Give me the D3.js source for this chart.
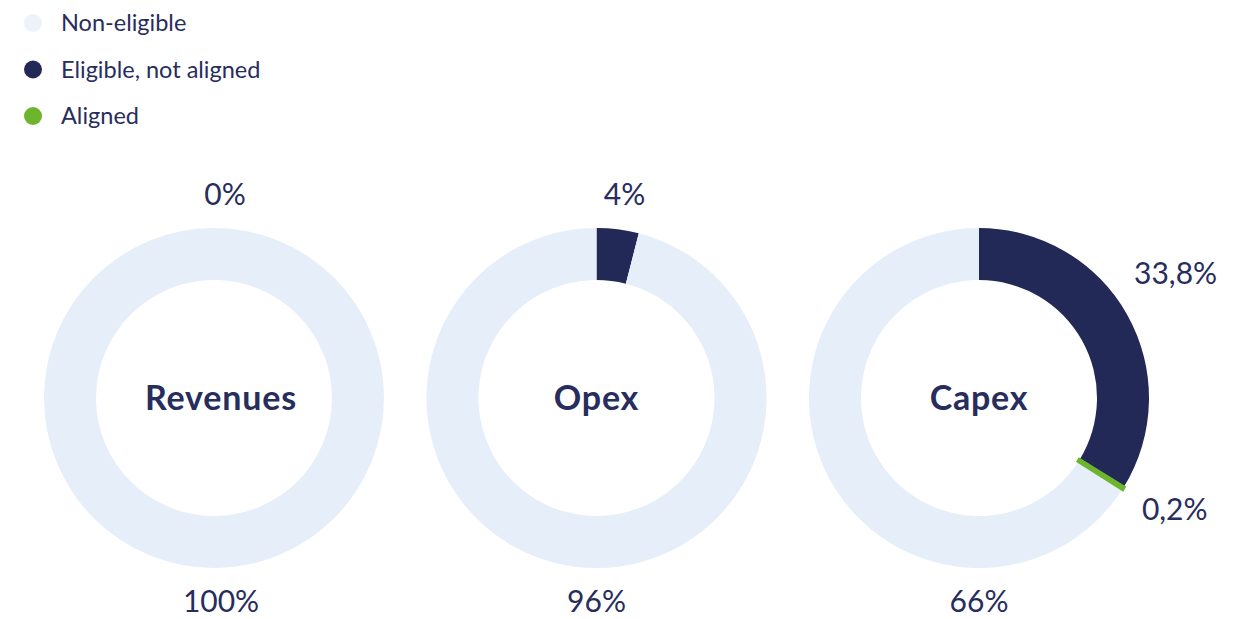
<!DOCTYPE html>
<html><head><meta charset="utf-8">
<script src="https://cdn.jsdelivr.net/npm/d3@7"></script>
<style>
html,body{margin:0;padding:0;background:#fff;}
svg{display:block;font-family:Lato,"Open Sans",sans-serif;}
</style></head>
<body>
<svg id="c" width="1243" height="619"></svg>
<script>
const categories = ["Revenues", "Opex", "Capex"];
const seriesNames = ["Eligible, not aligned", "Aligned", "Non-eligible"];
const eligibleNotAligned = [0, 4, 33.8];
const aligned = [0, 0, 0.2];
const nonEligible = [100, 96, 66];
const eligibleLabels = ["0%", "4%", "33,8%"];
const alignedLabels = ["", "", "0,2%"];
const nonEligibleLabels = ["100%", "96%", "66%"];
const legendNames = ["Non-eligible", "Eligible, not aligned", "Aligned"];

const colors = {"Non-eligible": "#e5eef9", "Eligible, not aligned": "#232957", "Aligned": "#6cb52d"};
const legendColors = {"Non-eligible": "#edf3fb", "Eligible, not aligned": "#232957", "Aligned": "#6cb52d"};
const textColor = "#272d5c";

const svg = d3.select("#c");

// Legend
const lg = svg.append("g");
legendNames.forEach((n, i) => {
  const y = 23 + i * 46.5;
  lg.append("circle").attr("cx", 33).attr("cy", y).attr("r", 9).attr("fill", legendColors[n]);
  lg.append("text").attr("x", 61).attr("y", y).attr("dy", "0.35em")
    .attr("font-size", 23.5).attr("fill", textColor).text(n);
});

const x = d3.scalePoint().domain(categories).range([214, 979]);
const cy = 398, outerR = 170, innerR = 118, labelR = 191;
const pie = d3.pie().sort(null).value(d => d.value);
const arc = d3.arc().innerRadius(innerR).outerRadius(outerR);

function placeLabel(g, angle, text, fs, dx) {
  const t = g.append("text").attr("font-size", fs).attr("fill", textColor)
    .attr("text-anchor", "middle").attr("dy", "0.35em").text(text);
  const bb = t.node().getBBox();
  const hw = bb.width / 2, hh = 12;
  const s = Math.sin(angle), c = Math.cos(angle);
  const ext = Math.abs(s) * hw + Math.abs(c) * hh;
  const r = labelR + ext;
  t.attr("x", r * s + dx).attr("y", -r * c);
}

categories.forEach((cat, i) => {
  const g = svg.append("g").attr("transform", `translate(${x(cat)},${cy})`);
  const data = [
    {name: "Eligible, not aligned", value: eligibleNotAligned[i]},
    {name: "Aligned", value: aligned[i]},
    {name: "Non-eligible", value: nonEligible[i]}
  ];
  const arcs = pie(data);
  // text in the single-slice (100%) chart sits slightly right of the ring centre
  const tdx = (eligibleNotAligned[i] === 0 && aligned[i] === 0) ? 7 : 0;
  g.selectAll("path").data(arcs.filter(a => a.data.value > 0)).join("path")
    .attr("d", arc)
    .attr("fill", d => colors[d.data.name])
    .attr("stroke", d => d.data.name === "Aligned" ? colors["Aligned"] : "none")
    .attr("stroke-width", d => d.data.name === "Aligned" ? 4 : 0)
    .attr("stroke-linejoin", "miter");
  g.selectAll("path").filter(d => d.data.name === "Aligned").raise();

  g.append("text").attr("x", tdx).attr("text-anchor", "middle").attr("dy", "0.35em")
    .attr("font-size", 34).attr("font-weight", "bold").attr("letter-spacing", 0.8)
    .attr("fill", textColor).text(cat);

  const e = arcs[0];
  placeLabel(g, (e.startAngle + e.endAngle) / 2 * 0.93 + 0.02, eligibleLabels[i], 30, tdx);
  if (alignedLabels[i]) {
    const a = arcs[1];
    placeLabel(g, (a.startAngle + a.endAngle) / 2 - 0.04, alignedLabels[i], 30, 0);
  }
  placeLabel(g, Math.PI, nonEligibleLabels[i], 30, tdx);
});
</script>
</body></html>
